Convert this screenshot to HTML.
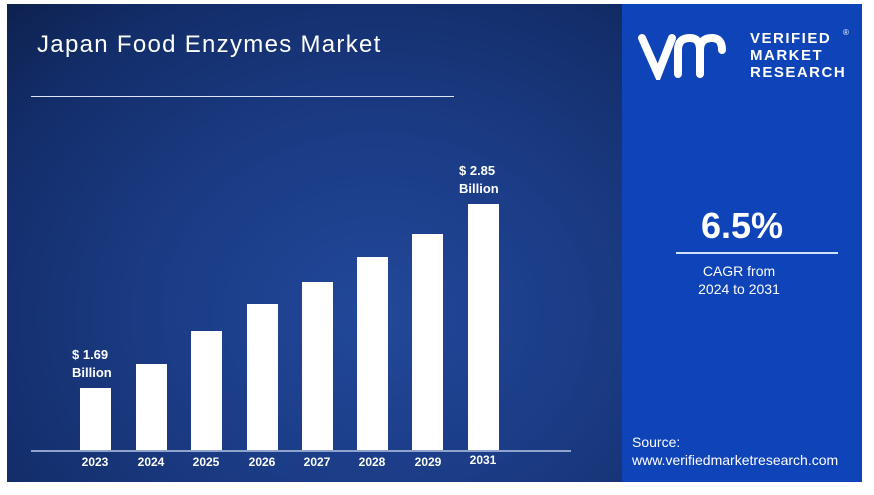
<!DOCTYPE html>
<html><head><meta charset="utf-8"><style>
body{margin:0;width:874px;height:495px;background:#fff;position:relative;overflow:hidden;font-family:"Liberation Sans",sans-serif;}
.l{position:absolute;left:7px;top:4px;width:615px;height:478px;background:radial-gradient(ellipse at 60% 65%,#22489a 0%,#1b3c86 40%,#132d69 80%,#0e214f 100%);}
.r{position:absolute;left:622px;top:4px;width:240px;height:478px;background:#0f43b8;}
.t{position:absolute;color:#fff;}
.bar{position:absolute;background:#fff;width:31px;}
.yr{position:absolute;top:455px;color:#fff;font-size:12px;font-weight:bold;width:40px;text-align:center;}
</style></head><body>
<div class="l"></div>
<div class="r"></div>
<div class="t" style="left:37px;top:31px;font-size:24px;letter-spacing:1.3px">Japan Food Enzymes Market</div>
<div style="position:absolute;left:31px;top:96px;width:423px;height:1px;background:#dfe6f5"></div>
<div style="position:absolute;left:31px;top:450px;width:540px;height:2px;background:#8fa3cc"></div>
<div class="bar" style="left:80px;top:388px;height:62px"></div>
<div class="bar" style="left:136px;top:364px;height:86px"></div>
<div class="bar" style="left:191px;top:331px;height:119px"></div>
<div class="bar" style="left:247px;top:304px;height:146px"></div>
<div class="bar" style="left:302px;top:282px;height:168px"></div>
<div class="bar" style="left:357px;top:257px;height:193px"></div>
<div class="bar" style="left:412px;top:234px;height:216px"></div>
<div class="bar" style="left:468px;top:204px;height:246px"></div>
<div class="yr" style="left:75px">2023</div><div class="yr" style="left:131px">2024</div>
<div class="yr" style="left:186px">2025</div><div class="yr" style="left:242px">2026</div>
<div class="yr" style="left:297px">2027</div><div class="yr" style="left:352px">2028</div>
<div class="yr" style="left:408px">2029</div><div class="yr" style="left:463px;top:453px">2031</div>
<div class="t" style="left:72px;top:346px;font-size:13px;font-weight:bold;line-height:18px">$ 1.69<br>Billion</div>
<div class="t" style="left:459px;top:162px;font-size:13px;font-weight:bold;line-height:18px">$ 2.85<br>Billion</div>
<svg style="position:absolute;left:638px;top:30px" width="100" height="50" viewBox="0 0 100 50"><path d="M4 8 L20 44 L34 8 M40 44 V20 Q40 8 52 8 Q62 8 62 20 V44 M62 20 Q62 8 74 8 Q84 8 84 20" fill="none" stroke="#fff" stroke-width="8" stroke-linecap="round"/></svg>
<div class="t" style="left:750px;top:30px;font-size:15px;font-weight:bold;line-height:17px;letter-spacing:1.5px">VERIFIED<br>MARKET<br>RESEARCH</div>
<div class="t" style="left:843px;top:28px;font-size:8px">®</div>
<div class="t" style="left:622px;top:205px;width:240px;text-align:center;font-size:36px;font-weight:bold">6.5%</div>
<div style="position:absolute;left:676px;top:252px;width:162px;height:2px;background:#cfe0ff"></div>
<div class="t" style="left:622px;top:262px;width:234px;text-align:center;font-size:14px;line-height:18px">CAGR from<br>2024 to 2031</div>
<div class="t" style="left:632px;top:433px;font-size:14px;line-height:18px">Source:<br>www.verifiedmarketresearch.com</div>
</body></html>
